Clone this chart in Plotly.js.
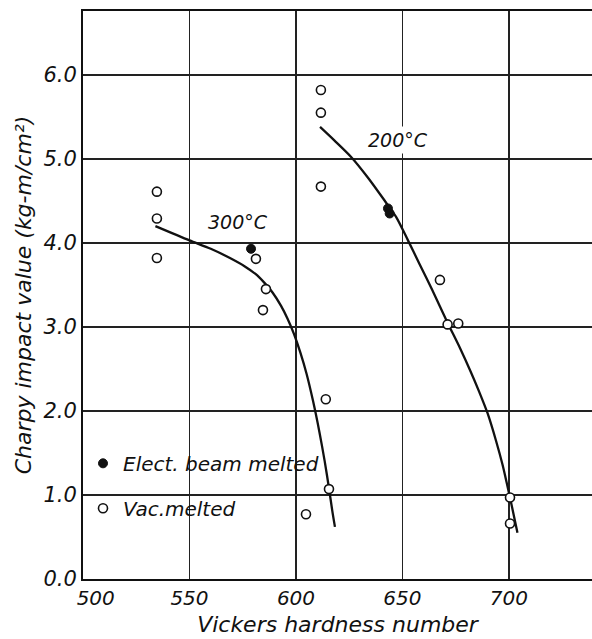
<!DOCTYPE html>
<html>
<head>
<meta charset="utf-8">
<script src="https://cdn.plot.ly/plotly-3.0.1.min.js"></script>
<style>html,body{margin:0;padding:0;background:#fff;}</style>
</head>
<body>
<div id="chart" style="width:592px;height:639px;"></div>
<script>
// Vacuum melted (open circles)
const vacX = [534.7, 534.7, 534.7, 581.2, 585.9, 584.5, 614.0, 615.5, 604.7, 611.7, 611.7, 611.7, 667.6, 671.2, 676.2, 700.5, 700.5];
const vacY = [4.61, 4.29, 3.82, 3.81, 3.45, 3.20, 2.14, 1.07, 0.77, 5.82, 5.55, 4.67, 3.56, 3.03, 3.04, 0.97, 0.66];
// Electron beam melted (filled circles)
const ebX = [578.9, 643.2, 644.0];
const ebY = [3.93, 4.41, 4.35];
// Fitted curves
const c300X = [534, 550, 560, 569, 576, 581, 585, 589, 593, 596, 599, 602, 605, 608, 611, 613.5, 615.5, 617, 618.3];
const c300Y = [4.20, 4.03, 3.93, 3.82, 3.72, 3.63, 3.53, 3.41, 3.25, 3.10, 2.92, 2.70, 2.44, 2.12, 1.75, 1.40, 1.08, 0.82, 0.62];
const c200X = [611.3, 618, 626, 634, 642, 647, 652.6, 658, 664, 671, 677, 682, 686, 690, 694, 697, 699, 701.5, 704];
const c200Y = [5.38, 5.22, 5.02, 4.77, 4.49, 4.31, 4.03, 3.75, 3.44, 3.06, 2.75, 2.47, 2.23, 1.97, 1.64, 1.36, 1.14, 0.85, 0.55];
// Labels
const curveLabels = ["300°C", "200°C"];
const curveLabelX = [572.8, 647.9];
const curveLabelY = [4.25, 5.23];
const xTickVals = [500, 550, 600, 650, 700];
const xTickText = ["\u00a0\u00a0\u00a0\u00a0500", "550", "600", "650", "700"];
const yTickVals = [0, 1, 2, 3, 4, 5, 6];
const yTickText = ["0.0", "1.0", "2.0", "3.0", "4.0", "5.0", "6.0"];

const FONT = "DejaVu Sans, sans-serif";
const ital = (size) => ({family: FONT, size: size, color: "#111", style: "italic"});

const traces = [
  {x: c300X, y: c300Y, mode: "lines", line: {color: "#111", width: 2.3, shape: "spline", smoothing: 0.8}, showlegend: false, hoverinfo: "skip"},
  {x: c200X, y: c200Y, mode: "lines", line: {color: "#111", width: 2.3, shape: "spline", smoothing: 0.8}, showlegend: false, hoverinfo: "skip"},
  {x: ebX, y: ebY, mode: "markers", name: "Elect. beam melted", legendgroup: "a",
   marker: {symbol: "circle", size: 9, color: "#111", line: {color: "#111", width: 1}}},
  {x: vacX, y: vacY, mode: "markers", name: "Vac.melted", legendgroup: "b",
   marker: {symbol: "circle", size: 9, color: "#fff", line: {color: "#111", width: 1.6}}}
];

const annotations = curveLabels.map((t, i) => ({
  x: curveLabelX[i], y: curveLabelY[i], xref: "x", yref: "y", text: t,
  showarrow: false, font: ital(19), bgcolor: "#fff", borderpad: 2
}));

const layout = {
  width: 592, height: 639,
  margin: {l: 83, r: 0, t: 11, b: 60},
  paper_bgcolor: "#fff", plot_bgcolor: "#fff",
  showlegend: true,
  legend: {x: 0, xanchor: "left", y: 0.238, yanchor: "top", bgcolor: "rgba(0,0,0,0)",
           font: ital(20), tracegroupgap: 16, borderwidth: 0},
  xaxis: {range: [500, 739], tickvals: xTickVals, ticktext: xTickText,
          showgrid: true, gridcolor: "#222", gridwidth: 1.3, zeroline: false,
          showline: true, linecolor: "#111", linewidth: 2, mirror: true,
          ticks: "", tickfont: ital(20),
          title: {text: "Vickers hardness number", font: ital(22), standoff: 8}},
  yaxis: {range: [0, 6.76], tickvals: yTickVals, ticktext: yTickText,
          showgrid: true, gridcolor: "#222", gridwidth: 1.3, zeroline: false,
          showline: true, linecolor: "#111", linewidth: 2,
          ticks: "", tickfont: ital(21),
          title: {text: "Charpy impact value (kg-m/cm²)", font: ital(22), standoff: 6}},
  annotations: annotations
};

Plotly.newPlot("chart", traces, layout, {displayModeBar: false, staticPlot: true});
</script>
</body>
</html>
